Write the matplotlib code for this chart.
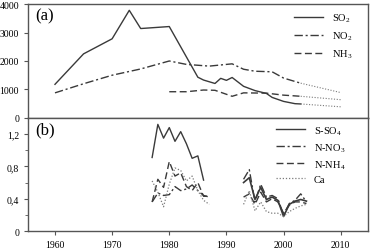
import matplotlib
matplotlib.use("Agg")
from matplotlib import pyplot as plt
from matplotlib.ticker import MultipleLocator, FuncFormatter

plt.rcParams['font.family'] = ['Liberation Serif', 'DejaVu Serif']
plt.rcParams['mathtext.fontset'] = 'custom'
plt.rcParams['mathtext.rm'] = 'Liberation Serif'

# (a) emissions
so2_years = [1960, 1965, 1970, 1973, 1975, 1980, 1985, 1986, 1988, 1989, 1990,
             1991, 1993, 1995, 1997, 1998, 2000, 2002, 2003]
so2 = [1180, 2250, 2780, 3780, 3140, 3210, 1430, 1330, 1210, 1390, 1320,
       1420, 1110, 960, 860, 720, 580, 500, 490]
no2_years = [1960, 1965, 1970, 1975, 1980, 1983, 1987, 1991, 1993, 1995, 1998, 2000, 2003]
no2 = [880, 1200, 1500, 1720, 2000, 1880, 1820, 1900, 1710, 1640, 1620, 1400, 1220]
nh3_years = [1980, 1983, 1986, 1988, 1991, 1993, 1997, 2000, 2003]
nh3 = [920, 920, 980, 970, 760, 880, 870, 800, 760]
proj_years = [2003, 2010]
so2_proj = [490, 390]
no2_proj = [1220, 890]
nh3_proj = [760, 640]

# (b) deposition
b1_years = list(range(1977, 1987))
b1x_years = list(range(1977, 1988))
sso4_1 = [0.91, 1.32, 1.15, 1.28, 1.11, 1.23, 1.08, 0.90, 0.93, 0.63]
nno3_1 = [0.36, 0.47, 0.44, 0.45, 0.55, 0.50, 0.52, 0.57, 0.50, 0.44, 0.42]
nnh4_1 = [0.36, 0.64, 0.54, 0.86, 0.68, 0.72, 0.55, 0.50, 0.60, 0.43, 0.43]
ca_1 = [0.62, 0.48, 0.30, 0.58, 0.78, 0.75, 0.62, 0.68, 0.50, 0.38, 0.33]
b2_years = list(range(1993, 2005))
sso4_2 = [0.60, 0.66, 0.39, 0.54, 0.39, 0.42, 0.38, 0.18, 0.33, 0.37, 0.39, 0.37]
nno3_2 = [0.64, 0.76, 0.36, 0.58, 0.42, 0.44, 0.40, 0.20, 0.34, 0.38, 0.46, 0.36]
nnh4_2 = [0.42, 0.46, 0.33, 0.48, 0.36, 0.40, 0.36, 0.22, 0.32, 0.36, 0.36, 0.34]
ca_2 = [0.33, 0.50, 0.25, 0.36, 0.24, 0.22, 0.22, 0.18, 0.24, 0.28, 0.31, 0.33]

c = '#3a3a3a'
cd = '#7a7a7a'

fig = plt.figure(figsize=(3.7, 2.53), dpi=100)
ax1 = fig.add_axes([0.076, 0.530, 0.919, 0.450])
ax2 = fig.add_axes([0.076, 0.083, 0.919, 0.447], sharex=ax1)

l1, = ax1.plot(so2_years, so2, color=c, lw=1.0, ls='-')
l2, = ax1.plot(no2_years, no2, color=c, lw=1.0, ls=(0, (6, 2, 1.5, 2)))
l3, = ax1.plot(nh3_years, nh3, color=c, lw=1.0, ls=(0, (5, 2.5)))
for p in (so2_proj, no2_proj, nh3_proj):
    ax1.plot(proj_years, p, color=cd, lw=0.8, ls=(0, (1, 1.5)))
ax1.set_ylim(0, 4000)
ax1.set_xlim(1955.3, 2014.8)
ax1.yaxis.set_major_locator(MultipleLocator(1000))
ax1.tick_params(axis='x', bottom=False, labelbottom=False)
ax1.text(0.02, 0.97, '(a)', transform=ax1.transAxes, fontsize=12, va='top')
ax1.legend((l1, l2, l3), ('SO$_2$', 'NO$_2$', 'NH$_3$'), loc='upper right',
           bbox_to_anchor=(0.98, 1.02), frameon=False, fontsize=7.5,
           handlelength=2.8, labelspacing=0.5, handletextpad=0.8)

m1, = ax2.plot(b1_years, sso4_1, color=c, lw=1.0, ls='-')
m2, = ax2.plot(b1x_years, nno3_1, color=c, lw=1.0, ls=(0, (6, 2, 1.5, 2)))
m3, = ax2.plot(b1x_years, nnh4_1, color=c, lw=1.0, ls=(0, (5, 2.5)))
m4, = ax2.plot(b1x_years, ca_1, color=cd, lw=0.9, ls=(0, (1, 1.5)))
ax2.plot(b2_years, sso4_2, color=c, lw=1.2, ls='-')
ax2.plot(b2_years, nno3_2, color=c, lw=1.0, ls=(0, (6, 2, 1.5, 2)))
ax2.plot(b2_years, nnh4_2, color=c, lw=1.0, ls=(0, (5, 2.5)))
ax2.plot(b2_years, ca_2, color=cd, lw=0.9, ls=(0, (1, 1.5)))
ax2.set_ylim(0, 1.4)
ax2.yaxis.set_major_locator(MultipleLocator(0.4))
ax2.yaxis.set_minor_locator(MultipleLocator(0.2))
ax2.yaxis.set_major_formatter(FuncFormatter(lambda v, p: '0' if v == 0 else ('%.1f' % v).replace('.', ',')))
ax2.xaxis.set_major_locator(MultipleLocator(10))
ax2.text(0.02, 0.97, '(b)', transform=ax2.transAxes, fontsize=12, va='top')
ax2.legend((m1, m2, m3, m4), ('S-SO$_4$', 'N-NO$_3$', 'N-NH$_4$', 'Ca'), loc='upper right',
           bbox_to_anchor=(0.96, 1.03), frameon=False, fontsize=7.5,
           handlelength=2.8, labelspacing=0.4, handletextpad=0.8)

for ax in (ax1, ax2):
    for s in ax.spines.values():
        s.set_color('#555555')
        s.set_linewidth(1.0)
    ax.tick_params(labelsize=7, length=3, width=0.8, color='#555555', direction='out')
    ax.tick_params(which='minor', length=2, width=0.6, color='#555555')

fig.savefig("out.png", dpi=100)
